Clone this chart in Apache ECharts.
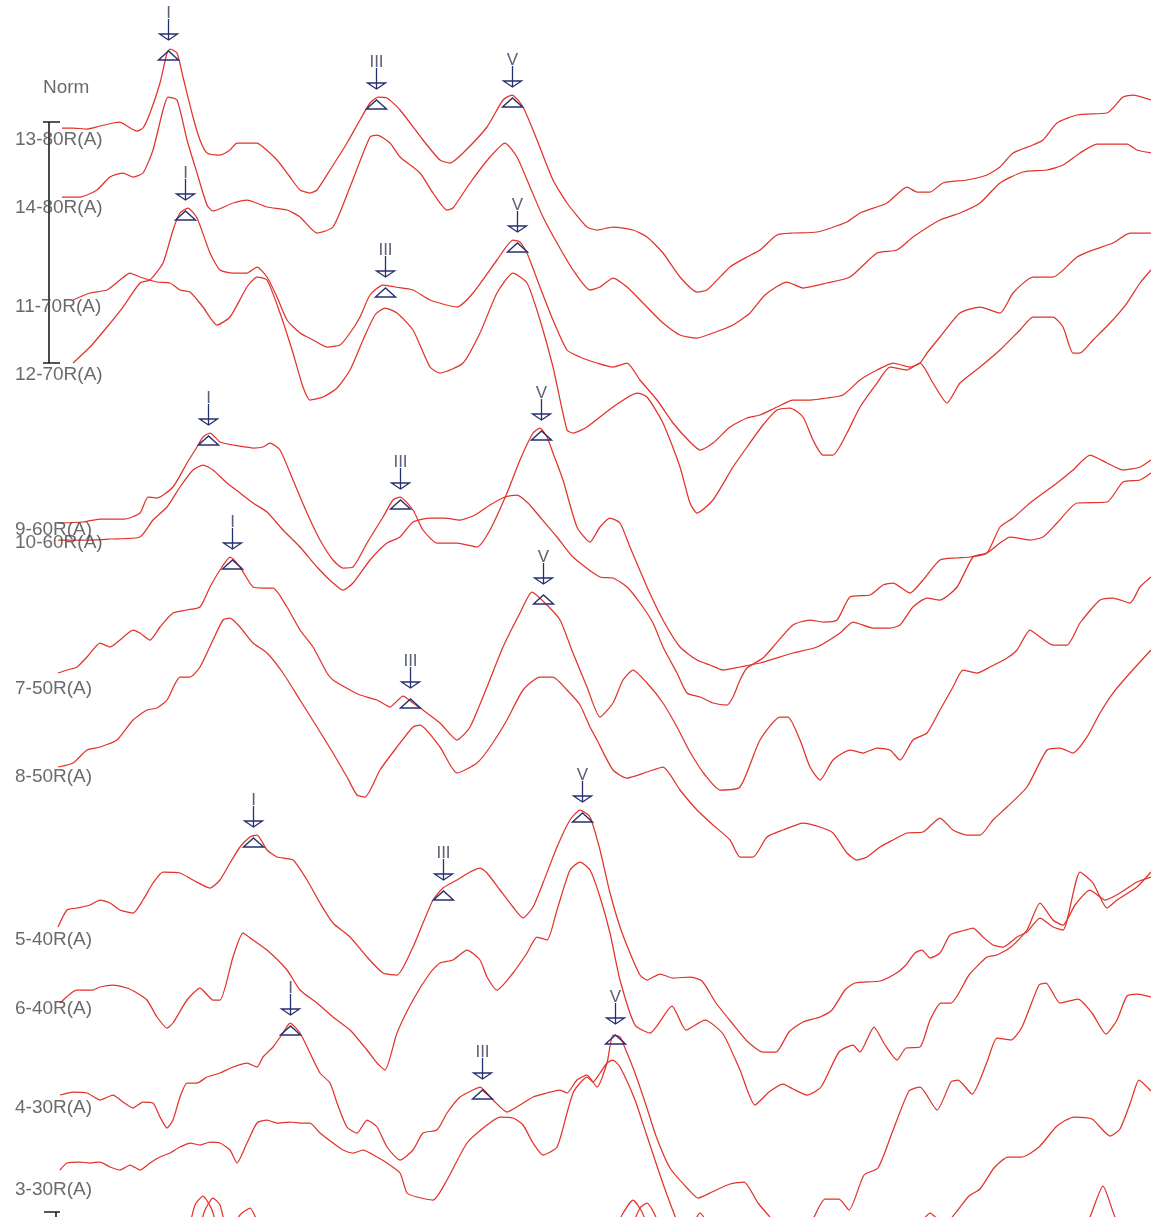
<!DOCTYPE html>
<html>
<head>
<meta charset="utf-8">
<title>ABR intensity series</title>
<script src="https://cdn.jsdelivr.net/npm/echarts/dist/echarts.min.js"></script>
<style>
  html, body { margin: 0; padding: 0; background: #ffffff; }
  #chart { width: 1151px; height: 1217px; }
</style>
</head>
<body>
<div id="chart"></div>
<script>
// Each waveform: [latency (ms), amplitude relative to its own baseline]
const TRACE_13_80 = [[0.05,0.12],[0.16,0.12],[0.30,0.11],[0.43,0.14],[0.56,0.17],[0.63,0.18],[0.70,0.14],[0.80,0.09],[0.86,0.12],[0.93,0.27],[1.03,0.57],[1.10,0.87],[1.13,0.91],[1.20,0.87],[1.26,0.63],[1.36,0.23],[1.43,0.00],[1.50,-0.13],[1.63,-0.15],[1.73,-0.10],[1.80,-0.03],[2.00,-0.03],[2.06,-0.07],[2.20,-0.20],[2.33,-0.37],[2.43,-0.50],[2.53,-0.53],[2.60,-0.50],[2.73,-0.30],[2.90,-0.03],[3.03,0.20],[3.13,0.37],[3.21,0.43],[3.30,0.42],[3.43,0.30],[3.66,0.00],[3.83,-0.20],[3.93,-0.23],[4.06,-0.13],[4.30,0.13],[4.46,0.40],[4.55,0.45],[4.66,0.33],[4.80,0.00],[4.96,-0.40],[5.10,-0.63],[5.30,-0.87],[5.40,-0.90],[5.56,-0.87],[5.76,-0.90],[5.90,-0.97],[6.06,-1.13],[6.23,-1.37],[6.40,-1.52],[6.50,-1.50],[6.73,-1.27],[6.90,-1.17],[7.03,-1.10],[7.20,-0.95],[7.36,-0.93],[7.60,-0.92],[7.90,-0.82],[8.03,-0.73],[8.30,-0.63],[8.50,-0.47],[8.60,-0.52],[8.73,-0.52],[8.86,-0.43],[9.10,-0.40],[9.30,-0.35],[9.43,-0.27],[9.56,-0.13],[9.76,-0.05],[9.86,0.00],[10.00,0.17],[10.20,0.25],[10.50,0.27],[10.56,0.32],[10.66,0.43],[10.76,0.45],[10.94,0.40]];

const TRACE_14_80 = [[0.05,0.11],[0.23,0.11],[0.40,0.18],[0.53,0.31],[0.66,0.35],[0.76,0.31],[0.86,0.35],[0.96,0.58],[1.06,0.98],[1.11,1.11],[1.20,1.08],[1.30,0.68],[1.40,0.35],[1.50,0.03],[1.56,-0.03],[1.76,0.05],[1.90,0.08],[2.10,0.01],[2.30,-0.02],[2.43,-0.09],[2.60,-0.25],[2.76,-0.19],[2.93,0.21],[3.13,0.71],[3.20,0.73],[3.33,0.65],[3.43,0.51],[3.63,0.35],[3.76,0.15],[3.90,-0.02],[3.96,0.00],[4.13,0.25],[4.33,0.51],[4.48,0.65],[4.60,0.51],[4.73,0.21],[4.86,-0.09],[5.00,-0.35],[5.16,-0.62],[5.33,-0.82],[5.43,-0.79],[5.56,-0.70],[5.70,-0.79],[5.86,-0.95],[6.06,-1.15],[6.23,-1.27],[6.40,-1.30],[6.56,-1.25],[6.76,-1.17],[6.93,-1.05],[7.08,-0.87],[7.30,-0.74],[7.46,-0.80],[7.70,-0.75],[7.93,-0.69],[8.20,-0.45],[8.40,-0.42],[8.56,-0.29],[8.83,-0.12],[9.03,-0.05],[9.23,0.05],[9.43,0.25],[9.66,0.36],[9.90,0.38],[10.06,0.43],[10.23,0.55],[10.40,0.64],[10.70,0.64],[10.80,0.58],[10.94,0.55]];

const TRACE_11_70 = [[0.16,0.07],[0.33,0.14],[0.50,0.17],[0.63,0.27],[0.73,0.34],[0.83,0.30],[1.00,0.25],[1.13,0.24],[1.23,0.17],[1.33,0.15],[1.46,0.00],[1.60,-0.18],[1.73,-0.10],[1.90,0.20],[2.00,0.30],[2.10,0.27],[2.23,-0.06],[2.36,-0.46],[2.46,-0.80],[2.53,-0.93],[2.66,-0.90],[2.80,-0.81],[2.93,-0.63],[3.06,-0.33],[3.18,-0.08],[3.28,-0.01],[3.40,-0.06],[3.56,-0.23],[3.73,-0.60],[3.83,-0.66],[4.06,-0.56],[4.23,-0.26],[4.40,0.14],[4.56,0.34],[4.70,0.24],[4.83,-0.13],[4.96,-0.60],[5.10,-1.23],[5.16,-1.26],[5.30,-1.20],[5.56,-1.00],[5.80,-0.86],[5.90,-0.90],[6.06,-1.16],[6.23,-1.60],[6.33,-1.96],[6.40,-2.06],[6.56,-1.93],[6.76,-1.60],[6.90,-1.40],[7.06,-1.18],[7.20,-1.03],[7.33,-1.01],[7.46,-1.10],[7.56,-1.33],[7.66,-1.48],[7.76,-1.48],[7.90,-1.26],[8.03,-1.00],[8.20,-0.76],[8.33,-0.60],[8.50,-0.63],[8.63,-0.56],[8.76,-0.76],[8.90,-0.96],[9.03,-0.76],[9.23,-0.60],[9.43,-0.43],[9.63,-0.23],[9.76,-0.10],[9.96,-0.10],[10.06,-0.20],[10.16,-0.46],[10.23,-0.46],[10.36,-0.33],[10.53,-0.16],[10.70,0.04],[10.83,0.24],[10.94,0.37]];

const TRACE_12_70 = [[0.16,0.12],[0.33,0.28],[0.50,0.48],[0.66,0.68],[0.83,0.92],[0.93,0.95],[1.06,1.12],[1.16,1.45],[1.23,1.62],[1.31,1.67],[1.40,1.57],[1.53,1.22],[1.63,1.05],[1.76,1.02],[1.90,1.02],[2.00,1.08],[2.10,0.98],[2.20,0.78],[2.30,0.55],[2.43,0.42],[2.56,0.35],[2.70,0.28],[2.83,0.30],[2.93,0.42],[3.03,0.58],[3.13,0.80],[3.26,0.90],[3.38,0.88],[3.56,0.85],[3.73,0.75],[4.00,0.68],[4.16,0.82],[4.40,1.15],[4.56,1.35],[4.63,1.33],[4.70,1.22],[4.83,0.88],[4.96,0.55],[5.10,0.25],[5.23,0.18],[5.40,0.12],[5.56,0.08],[5.70,0.12],[5.83,-0.05],[6.00,-0.25],[6.16,-0.48],[6.33,-0.67],[6.43,-0.75],[6.56,-0.68],[6.73,-0.52],[6.90,-0.43],[7.03,-0.40],[7.20,-0.32],[7.36,-0.25],[7.53,-0.25],[7.70,-0.23],[7.86,-0.20],[8.03,-0.05],[8.20,0.05],[8.36,0.12],[8.53,0.08],[8.63,0.12],[8.70,0.22],[8.83,0.38],[9.03,0.62],[9.23,0.68],[9.43,0.62],[9.56,0.82],[9.76,0.98],[9.96,0.98],[10.20,1.18],[10.36,1.25],[10.56,1.32],[10.73,1.42],[10.94,1.42]];

const TRACE_9_60 = [[0.01,0.07],[0.26,0.08],[0.43,0.11],[0.68,0.11],[0.83,0.17],[0.91,0.33],[1.00,0.32],[1.16,0.43],[1.30,0.67],[1.40,0.83],[1.46,0.93],[1.53,0.97],[1.63,0.88],[1.76,0.85],[1.96,0.82],[2.06,0.83],[2.13,0.87],[2.23,0.80],[2.36,0.50],[2.50,0.17],[2.63,-0.10],[2.76,-0.30],[2.86,-0.38],[2.96,-0.37],[3.10,-0.13],[3.26,0.13],[3.36,0.30],[3.43,0.33],[3.56,0.20],[3.66,0.00],[3.80,-0.13],[4.00,-0.13],[4.20,-0.17],[4.33,0.00],[4.50,0.37],[4.63,0.70],[4.76,0.97],[4.83,1.02],[4.90,0.93],[4.96,0.77],[5.06,0.50],[5.20,0.03],[5.33,-0.12],[5.43,0.03],[5.53,0.12],[5.63,0.07],[5.73,-0.17],[5.90,-0.57],[6.06,-0.90],[6.23,-1.17],[6.40,-1.30],[6.53,-1.35],[6.66,-1.40],[6.83,-1.37],[7.03,-1.33],[7.36,-1.23],[7.60,-1.17],[7.83,-1.03],[7.96,-0.92],[8.16,-0.98],[8.33,-0.98],[8.43,-0.95],[8.56,-0.77],[8.70,-0.68],[8.83,-0.70],[9.00,-0.57],[9.16,-0.27],[9.30,-0.23],[9.43,-0.13],[9.53,-0.07],[9.73,-0.10],[9.86,-0.07],[10.00,0.07],[10.20,0.27],[10.50,0.28],[10.66,0.48],[10.83,0.50],[10.94,0.57]];

const TRACE_10_60 = [[0.01,0.03],[0.33,0.03],[0.53,0.04],[0.83,0.06],[0.96,0.23],[1.10,0.36],[1.23,0.56],[1.36,0.73],[1.46,0.78],[1.56,0.73],[1.70,0.60],[1.83,0.50],[1.96,0.40],[2.10,0.31],[2.26,0.13],[2.43,-0.04],[2.60,-0.24],[2.76,-0.40],[2.86,-0.47],[2.96,-0.40],[3.13,-0.17],[3.30,0.00],[3.43,0.06],[3.56,0.21],[3.73,0.25],[3.88,0.25],[4.03,0.23],[4.18,0.28],[4.33,0.38],[4.48,0.46],[4.60,0.48],[4.71,0.40],[4.83,0.26],[5.00,0.06],[5.16,-0.14],[5.43,-0.34],[5.56,-0.35],[5.70,-0.44],[5.83,-0.60],[5.96,-0.80],[6.06,-1.04],[6.20,-1.30],[6.30,-1.50],[6.43,-1.54],[6.56,-1.60],[6.70,-1.62],[6.76,-1.54],[6.83,-1.37],[6.90,-1.25],[7.06,-1.15],[7.16,-1.04],[7.36,-0.82],[7.53,-0.77],[7.66,-0.79],[7.80,-0.77],[7.93,-0.54],[8.13,-0.52],[8.26,-0.42],[8.36,-0.40],[8.53,-0.50],[8.66,-0.37],[8.83,-0.17],[9.00,-0.15],[9.13,-0.14],[9.30,-0.10],[9.43,0.16],[9.56,0.25],[9.73,0.40],[10.00,0.60],[10.16,0.73],[10.33,0.88],[10.50,0.80],[10.66,0.73],[10.83,0.76],[10.94,0.83]];

const TRACE_7_50 = [[0.01,0.16],[0.10,0.19],[0.20,0.22],[0.30,0.32],[0.43,0.46],[0.53,0.42],[0.63,0.49],[0.76,0.59],[0.83,0.56],[0.93,0.49],[1.03,0.62],[1.16,0.76],[1.30,0.79],[1.43,0.82],[1.53,1.02],[1.63,1.19],[1.73,1.32],[1.83,1.22],[1.96,1.02],[2.06,1.01],[2.16,1.01],[2.30,0.82],[2.43,0.59],[2.56,0.42],[2.70,0.16],[2.76,0.09],[2.93,-0.01],[3.03,-0.06],[3.20,-0.11],[3.33,-0.18],[3.46,-0.07],[3.56,-0.14],[3.66,-0.21],[3.83,-0.34],[4.00,-0.51],[4.13,-0.38],[4.30,0.02],[4.46,0.42],[4.63,0.76],[4.75,0.97],[4.90,0.84],[5.03,0.69],[5.16,0.36],[5.30,0.02],[5.43,-0.28],[5.56,-0.14],[5.66,0.09],[5.76,0.19],[5.90,0.06],[6.06,-0.14],[6.20,-0.38],[6.33,-0.63],[6.48,-0.86],[6.63,-1.01],[6.83,-0.98],[7.03,-0.51],[7.23,-0.28],[7.31,-0.28],[7.43,-0.51],[7.53,-0.78],[7.63,-0.91],[7.76,-0.71],[7.93,-0.61],[8.06,-0.64],[8.20,-0.59],[8.33,-0.61],[8.43,-0.71],[8.56,-0.51],[8.70,-0.44],[8.83,-0.21],[8.96,0.02],[9.06,0.19],[9.20,0.16],[9.33,0.22],[9.50,0.31],[9.60,0.39],[9.73,0.59],[9.83,0.52],[9.96,0.44],[10.10,0.44],[10.23,0.66],[10.43,0.89],[10.56,0.91],[10.73,0.86],[10.83,1.02],[10.94,1.12]];

const TRACE_8_50 = [[0.01,0.10],[0.16,0.14],[0.30,0.27],[0.43,0.30],[0.60,0.37],[0.76,0.57],[0.90,0.67],[1.00,0.69],[1.10,0.77],[1.23,1.00],[1.33,1.00],[1.43,1.10],[1.56,1.37],[1.66,1.57],[1.73,1.59],[1.83,1.50],[1.96,1.34],[2.10,1.24],[2.26,1.04],[2.43,0.77],[2.60,0.50],[2.76,0.24],[2.90,0.00],[3.00,-0.18],[3.08,-0.20],[3.23,0.07],[3.40,0.30],[3.56,0.50],[3.63,0.52],[3.83,0.30],[4.00,0.04],[4.20,0.14],[4.33,0.30],[4.50,0.57],[4.66,0.87],[4.83,1.00],[4.96,1.00],[5.10,0.87],[5.23,0.72],[5.33,0.50],[5.40,0.37],[5.56,0.07],[5.70,-0.01],[5.90,0.05],[6.06,0.10],[6.23,-0.13],[6.40,-0.33],[6.56,-0.48],[6.73,-0.63],[6.83,-0.80],[6.96,-0.80],[7.10,-0.60],[7.26,-0.53],[7.46,-0.46],[7.63,-0.50],[7.76,-0.56],[7.90,-0.76],[8.00,-0.83],[8.10,-0.80],[8.23,-0.70],[8.36,-0.63],[8.50,-0.56],[8.66,-0.55],[8.83,-0.41],[8.96,-0.53],[9.10,-0.58],[9.23,-0.58],[9.36,-0.43],[9.50,-0.30],[9.70,-0.10],[9.90,0.27],[10.03,0.29],[10.16,0.24],[10.30,0.40],[10.43,0.64],[10.56,0.84],[10.73,1.04],[10.94,1.27]];

const TRACE_5_40 = [[0.01,0.13],[0.10,0.30],[0.20,0.32],[0.33,0.35],[0.43,0.40],[0.53,0.37],[0.63,0.30],[0.76,0.27],[0.86,0.40],[0.96,0.57],[1.06,0.68],[1.23,0.67],[1.36,0.60],[1.53,0.52],[1.63,0.60],[1.73,0.77],[1.83,0.93],[1.93,1.03],[2.00,1.05],[2.10,0.90],[2.20,0.83],[2.36,0.80],[2.50,0.60],[2.63,0.37],[2.76,0.17],[2.93,0.03],[3.10,-0.17],[3.26,-0.33],[3.40,-0.35],[3.56,-0.07],[3.66,0.17],[3.76,0.40],[3.86,0.52],[4.00,0.60],[4.13,0.68],[4.23,0.72],[4.30,0.67],[4.43,0.50],[4.56,0.33],[4.66,0.22],[4.76,0.33],[4.86,0.57],[5.00,0.93],[5.13,1.20],[5.23,1.30],[5.33,1.23],[5.43,0.90],[5.53,0.47],[5.63,0.13],[5.73,-0.13],[5.83,-0.35],[5.90,-0.40],[6.03,-0.34],[6.16,-0.38],[6.33,-0.37],[6.45,-0.41],[6.59,-0.63],[6.75,-0.83],[6.91,-1.02],[7.06,-1.12],[7.19,-1.12],[7.32,-0.92],[7.46,-0.82],[7.63,-0.77],[7.75,-0.70],[7.88,-0.50],[7.98,-0.43],[8.23,-0.41],[8.38,-0.34],[8.48,-0.26],[8.58,-0.13],[8.65,-0.10],[8.73,-0.18],[8.83,-0.13],[8.93,0.05],[9.05,0.09],[9.16,0.12],[9.26,0.03],[9.36,-0.05],[9.46,-0.07],[9.60,0.03],[9.70,0.08],[9.83,0.22],[9.96,0.13],[10.06,0.10],[10.23,0.68],[10.36,0.57],[10.50,0.32],[10.60,0.40],[10.80,0.53],[10.94,0.68]];

const TRACE_6_40 = [[0.03,0.06],[0.20,0.19],[0.36,0.19],[0.43,0.22],[0.56,0.24],[0.70,0.21],[0.80,0.16],[0.90,0.09],[1.00,-0.08],[1.10,-0.19],[1.16,-0.14],[1.30,0.09],[1.43,0.21],[1.56,0.09],[1.63,0.09],[1.76,0.52],[1.86,0.76],[1.96,0.69],[2.10,0.59],[2.30,0.39],[2.43,0.19],[2.60,0.06],[2.76,-0.08],[2.93,-0.21],[3.10,-0.41],[3.20,-0.54],[3.28,-0.61],[3.40,-0.24],[3.56,0.09],[3.73,0.36],[3.83,0.46],[3.96,0.49],[4.10,0.59],[4.23,0.49],[4.30,0.32],[4.40,0.19],[4.56,0.36],[4.70,0.56],[4.80,0.72],[4.90,0.69],[5.00,0.99],[5.13,1.39],[5.23,1.47],[5.33,1.39],[5.43,1.12],[5.53,0.76],[5.63,0.29],[5.78,-0.16],[5.93,-0.24],[6.15,0.03],[6.29,-0.21],[6.48,-0.11],[6.66,-0.25],[6.83,-0.61],[6.98,-0.96],[7.12,-0.83],[7.26,-0.75],[7.36,-0.80],[7.50,-0.86],[7.64,-0.78],[7.82,-0.43],[7.96,-0.36],[8.03,-0.43],[8.17,-0.18],[8.28,-0.36],[8.40,-0.51],[8.49,-0.39],[8.63,-0.38],[8.73,-0.11],[8.84,0.06],[8.94,0.06],[9.12,0.34],[9.30,0.52],[9.40,0.54],[9.54,0.62],[9.70,0.79],[9.83,1.06],[9.96,0.89],[10.06,0.84],[10.18,1.04],[10.33,1.19],[10.48,1.09],[10.63,1.16],[10.80,1.27],[10.94,1.32]];

const TRACE_4_30 = [[0.03,0.13],[0.16,0.16],[0.30,0.15],[0.43,0.08],[0.56,0.13],[0.66,0.06],[0.76,0.00],[0.86,0.06],[0.96,0.05],[1.03,-0.09],[1.10,-0.20],[1.16,-0.12],[1.23,0.11],[1.30,0.25],[1.40,0.25],[1.50,0.31],[1.63,0.35],[1.76,0.41],[1.90,0.45],[2.00,0.41],[2.06,0.51],[2.16,0.61],[2.26,0.75],[2.33,0.85],[2.43,0.75],[2.53,0.55],[2.63,0.35],[2.73,0.25],[2.80,0.05],[2.90,-0.19],[3.00,-0.25],[3.10,-0.12],[3.20,-0.19],[3.30,-0.39],[3.43,-0.52],[3.56,-0.42],[3.66,-0.25],[3.80,-0.22],[3.90,-0.05],[4.03,0.11],[4.16,0.18],[4.23,0.21],[4.36,0.08],[4.50,-0.04],[4.63,0.03],[4.76,0.11],[4.90,0.15],[5.03,0.18],[5.10,0.15],[5.20,0.28],[5.30,0.33],[5.40,0.21],[5.50,0.45],[5.56,0.73],[5.63,0.71],[5.68,0.60],[5.78,0.35],[5.89,0.03],[5.99,-0.28],[6.13,-0.60],[6.31,-0.81],[6.41,-0.90],[6.55,-0.84],[6.73,-0.76],[6.87,-0.74],[7.01,-0.95],[7.19,-1.16],[7.33,-1.32],[7.50,-1.23],[7.68,-0.91],[7.82,-0.91],[7.92,-1.02],[8.07,-0.67],[8.21,-0.60],[8.35,-0.25],[8.52,0.17],[8.63,0.21],[8.80,-0.02],[8.94,0.26],[9.01,0.28],[9.15,0.14],[9.30,0.46],[9.40,0.70],[9.54,0.68],[9.65,0.81],[9.82,1.23],[9.89,1.25],[10.03,1.05],[10.21,1.09],[10.35,0.95],[10.49,0.74],[10.60,0.88],[10.70,1.12],[10.81,1.14],[10.94,1.11]];

const TRACE_3_30 = [[0.03,0.20],[0.10,0.27],[0.23,0.28],[0.33,0.27],[0.43,0.28],[0.53,0.23],[0.63,0.20],[0.73,0.25],[0.83,0.20],[0.93,0.27],[1.03,0.33],[1.13,0.37],[1.23,0.43],[1.33,0.47],[1.43,0.45],[1.53,0.48],[1.63,0.47],[1.73,0.40],[1.80,0.27],[1.90,0.47],[2.00,0.67],[2.10,0.70],[2.20,0.67],[2.33,0.68],[2.43,0.67],[2.53,0.67],[2.63,0.57],[2.76,0.47],[2.86,0.40],[2.96,0.37],[3.06,0.40],[3.20,0.33],[3.30,0.27],[3.43,0.17],[3.50,-0.03],[3.60,-0.07],[3.76,-0.10],[3.90,0.10],[4.10,0.47],[4.30,0.65],[4.43,0.73],[4.56,0.72],[4.66,0.65],[4.76,0.47],[4.86,0.35],[5.00,0.43],[5.10,0.77],[5.16,0.97],[5.23,1.07],[5.30,1.13],[5.36,1.08],[5.43,1.17],[5.50,1.27],[5.56,1.30],[5.63,1.23],[5.78,0.90],[5.89,0.57],[6.03,0.15],[6.13,-0.13],[6.24,-0.41],[6.33,-0.60],[7.93,-0.75],[8.48,-0.55],[8.59,-0.41],[8.73,-0.23],[8.87,-0.34],[9.12,-0.06],[9.23,0.01],[9.37,0.22],[9.51,0.33],[9.65,0.33],[9.82,0.43],[10.00,0.64],[10.17,0.73],[10.35,0.71],[10.53,0.54],[10.63,0.61],[10.74,0.89],[10.82,1.10],[10.94,0.99]];

const TRACE_1_20 = [[0.00,0.00],[0.93,0.10],[1.28,0.50],[1.38,0.85],[1.46,0.94],[1.55,0.80],[1.65,0.50],[1.83,0.75],[1.93,0.82],[2.05,0.60],[2.93,-0.10],[5.43,0.30],[5.65,0.75],[5.76,0.90],[5.85,0.78],[5.98,0.50],[7.43,-0.10],[10.13,0.30],[10.33,0.73],[10.46,1.04],[10.58,0.73],[10.83,0.30],[10.94,0.20]];

const TRACE_2_20 = [[0.00,0.00],[1.03,0.10],[1.38,0.60],[1.48,0.90],[1.56,1.02],[1.63,0.95],[1.71,0.65],[2.03,0.20],[5.43,0.20],[5.73,0.70],[5.83,0.92],[5.90,0.97],[5.98,0.85],[6.08,0.60],[6.33,0.72],[6.43,0.87],[6.53,0.72],[6.73,0.30],[10.94,0.00]];

// Trace names, waveforms and display baselines (stacked downwards)
const TRACE_NAMES = ['13-80R(A)', '14-80R(A)', '11-70R(A)', '12-70R(A)', '9-60R(A)', '10-60R(A)',
                     '7-50R(A)', '8-50R(A)', '5-40R(A)', '6-40R(A)', '4-30R(A)', '3-30R(A)',
                     '1-20R(A)', '2-20R(A)'];
const TRACE_DATA = [TRACE_13_80, TRACE_14_80, TRACE_11_70, TRACE_12_70, TRACE_9_60, TRACE_10_60,
                    TRACE_7_50, TRACE_8_50, TRACE_5_40, TRACE_6_40, TRACE_4_30, TRACE_3_30,
                    TRACE_1_20, TRACE_2_20];
const TRACE_BASELINES = [-1.40, -2.08, -3.07, -3.75, -5.30, -5.43, -6.89, -7.77, -9.40, -10.09, -11.08, -11.90, -12.90, -13.00];

// Wave markers: [wave, latency (ms), amplitude]
const PEAKS_13_80 = [['I', 1.11, 0.92], ['III', 3.19, 0.43], ['V', 4.55, 0.45]];
const PEAKS_12_70 = [['I', 1.28, 1.67], ['III', 3.28, 0.90], ['V', 4.60, 1.35]];
const PEAKS_9_60  = [['I', 1.51, 0.97], ['III', 3.43, 0.33], ['V', 4.84, 1.02]];
const PEAKS_7_50  = [['I', 1.75, 1.32], ['III', 3.53, -0.07], ['V', 4.86, 0.97]];
const PEAKS_5_40  = [['I', 1.96, 1.05], ['III', 3.86, 0.52], ['V', 5.25, 1.30]];
const PEAKS_4_30  = [['I', 2.33, 0.85], ['III', 4.25, 0.21], ['V', 5.58, 0.76]];
const PEAK_SETS = { '13-80R(A)': PEAKS_13_80, '12-70R(A)': PEAKS_12_70, '9-60R(A)': PEAKS_9_60,
                    '7-50R(A)': PEAKS_7_50, '5-40R(A)': PEAKS_5_40, '4-30R(A)': PEAKS_4_30 };

// Amplitude calibration bars (Norm), upper group and the top of the next group
const NORM_BARS = [
  { latency: -0.08, top: -1.22, bottom: -3.63, tickFrom: -0.14, tickTo: 0.03 },
  { latency: -0.01, top: -12.12, bottom: -12.40, tickFrom: -0.13, tickTo: 0.03 }
];

const WAVE_RED = '#e2332b';
const MARK_NAVY = '#27306f';
const FONT = 'Liberation Sans, Arial, sans-serif';

const chart = echarts.init(document.getElementById('chart'), null, { renderer: 'canvas' });

const series = [];

TRACE_NAMES.forEach((name, i) => {
  const base = TRACE_BASELINES[i];
  series.push({
    name: name,
    type: 'line',
    data: TRACE_DATA[i].map(p => [p[0], base + p[1]]),
    showSymbol: false,
    smooth: 0.2,
    lineStyle: { color: WAVE_RED, width: 1.25 },
    emphasis: { disabled: true },
    silent: true,
    z: 2
  });
});

// Channel labels at each baseline
const labelRows = TRACE_NAMES.slice(0, 12).map((name, i) => [-0.42, TRACE_BASELINES[i], name]);
series.push({
  type: 'scatter',
  data: labelRows,
  symbolSize: 0,
  silent: true,
  label: {
    show: true,
    position: 'right',
    distance: 0,
    formatter: p => p.data[2],
    color: '#454545',
    fontSize: 19,
    fontFamily: FONT
  },
  z: 3
});

// Norm text and calibration bars
series.push({
  type: 'scatter',
  data: [[-0.14, -0.88, 'Norm']],
  symbolSize: 0,
  silent: true,
  label: {
    show: true, position: 'right', distance: 0,
    formatter: p => p.data[2],
    color: '#454545', fontSize: 19, fontFamily: FONT
  }
});
NORM_BARS.forEach(bar => {
  series.push({
    type: 'line',
    data: [
      [bar.tickFrom, bar.top], [bar.tickTo, bar.top],
      [bar.latency, bar.top], [bar.latency, bar.bottom],
      [bar.tickFrom, bar.bottom], [bar.tickTo, bar.bottom]
    ],
    showSymbol: false,
    silent: true,
    lineStyle: { color: '#1e1e1e', width: 1.6 },
    z: 1
  });
});

// Wave I/III/V markers: label, arrow and peak triangle
const markerRows = [];
TRACE_NAMES.forEach((name, i) => {
  (PEAK_SETS[name] || []).forEach(pk => {
    markerRows.push({ value: [pk[1], TRACE_BASELINES[i] + pk[2]], wave: pk[0] });
  });
});
series.push({
  type: 'custom',
  silent: true,
  data: markerRows.map(m => m.value),
  renderItem: (params, api) => {
    const p = api.coord([api.value(0), api.value(1)]);
    const x = Math.round(p[0]) + 0.5, y = Math.round(p[1]);
    const wave = markerRows[params.dataIndex].wave;
    const stroke = { stroke: MARK_NAVY, lineWidth: 1.3, fill: null };
    return {
      type: 'group',
      children: [
        { type: 'text', style: { text: wave, x: x, y: y - 26, textAlign: 'center', textVerticalAlign: 'bottom',
            fill: '#5b6076', font: '17px ' + FONT } },
        { type: 'line', shape: { x1: x, y1: y - 29, x2: x, y2: y - 8 }, style: stroke },
        { type: 'polygon', shape: { points: [[x - 9, y - 14], [x + 9, y - 14], [x, y - 8]] }, style: stroke },
        { type: 'polygon', shape: { points: [[x - 10, y + 12], [x + 10, y + 12], [x, y + 3]] },
          style: { stroke: MARK_NAVY, lineWidth: 1.4, fill: null } }
      ]
    };
  },
  z: 4
});

chart.setOption({
  animation: false,
  backgroundColor: '#ffffff',
  grid: { left: 0, right: 0, top: 0, bottom: 0, containLabel: false },
  xAxis: { type: 'value', min: -0.57, max: 10.94, show: false },
  yAxis: { type: 'value', min: -12.17, max: 0, show: false },
  series: series
});
</script>
</body>
</html>
